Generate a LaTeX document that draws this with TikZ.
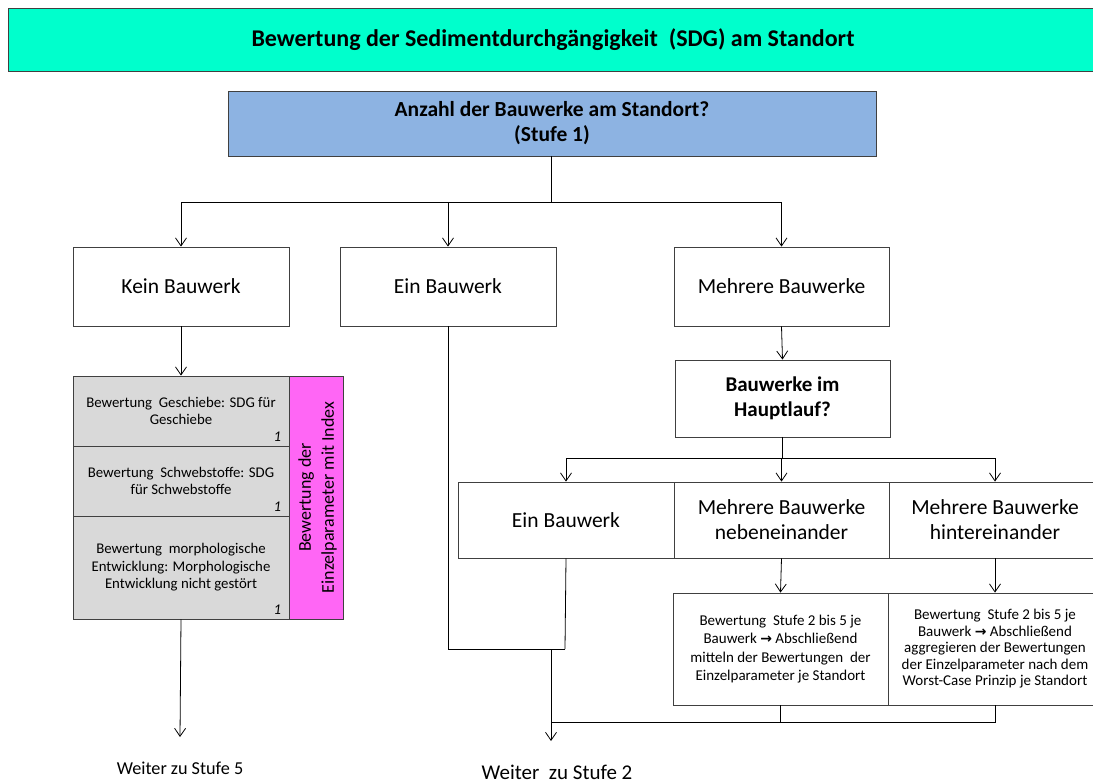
\documentclass[tikz,border=0pt]{standalone}
\usepackage{fontspec}
\setmainfont{Carlito}
\newfontfamily\arrowfont{DejaVu Sans}
\newcommand{\myarrow}{{\arrowfont\bfseries\fontsize{14}{14}\selectfont →}}
\usetikzlibrary{arrows.meta}
\definecolor{titlec}{HTML}{00FFCC}
\definecolor{stufec}{HTML}{8DB3E2}
\definecolor{grayc}{HTML}{D9D9D9}
\definecolor{magc}{HTML}{FF66F5}
\definecolor{linec}{HTML}{404040}
\tikzset{
  box/.style={draw=linec, line width=0.8pt, rectangle, align=center, inner sep=2pt, fill=white},
  big/.style={font=\fontsize{21.5}{25}\selectfont},
  small/.style={font=\fontsize{14.8}{17.5}\selectfont},
  conn/.style={draw=black, line width=0.8pt},
  arr/.style={conn, -{Straight Barb[length=8pt,width=11pt,line width=0.8pt]}},
}
\begin{document}
\begin{tikzpicture}[x=1pt,y=-1pt]
\useasboundingbox (0,0) rectangle (1093,783);
\clip (0,0) rectangle (1093,783);
% title
\node[box, fill=titlec, minimum width=1090pt, minimum height=63pt, font=\bfseries\fontsize{24}{28}\selectfont] (title) at (553,39.5) {Bewertung der Sedimentdurchgängigkeit\ \ (SDG) am Standort};
% stufe 1
\node[box, fill=stufec, minimum width=648pt, minimum height=65pt, font=\bfseries\fontsize{21.5}{25}\selectfont] (stufe) at (552,123.5) {Anzahl der Bauwerke am Standort?\\(Stufe 1)};
% level 1
\node[box, big, minimum width=216pt, minimum height=79pt] (kein) at (181,286.5) {Kein Bauwerk};
\node[box, big, minimum width=216pt, minimum height=79pt] (ein) at (448,286.5) {Ein Bauwerk};
\node[box, big, minimum width=215pt, minimum height=79pt] (mehr) at (781.5,286.5) {Mehrere Bauwerke};
% gray stack
\node[box, fill=grayc, small, minimum width=216pt, minimum height=70pt] (r1) at (181,411) {Bewertung\ \ Geschiebe: SDG für\\Geschiebe};
\node[box, fill=grayc, small, minimum width=216pt, minimum height=70pt] (r2) at (181,481) {Bewertung\ \ Schwebstoffe: SDG\\für Schwebstoffe};
\node[box, fill=grayc, small, minimum width=216pt, minimum height=103pt] (r3) at (181,567.5) {Bewertung\ \ morphologische\\Entwicklung: Morphologische\\Entwicklung nicht gestört};
\node[font=\itshape\fontsize{14.8}{16}\selectfont, anchor=south east, inner sep=0pt] (i1) at ([xshift=-8pt,yshift=5pt]r1.south east) {1};
\node[font=\itshape\fontsize{14.8}{16}\selectfont, anchor=south east, inner sep=0pt] (i2) at ([xshift=-8pt,yshift=5pt]r2.south east) {1};
\node[font=\itshape\fontsize{14.8}{16}\selectfont, anchor=south east, inner sep=0pt] (i3) at ([xshift=-8pt,yshift=5pt]r3.south east) {1};
\node[box, fill=magc, minimum width=54pt, minimum height=243pt] (mag) at (316,497.5) {};
\node[rotate=90, align=center, font=\fontsize{18}{23}\selectfont] (magt) at ([xshift=1.5pt]mag.center) {Bewertung der\\Einzelparameter mit Index};
% level 2
\node[box, font=\bfseries\fontsize{21}{25}\selectfont, minimum width=215pt, minimum height=77pt] (haupt) at (782.5,398.5) {Bauwerke im\\Hauptlauf?};
\node[box, big, minimum width=216pt, minimum height=76pt] (ein2) at (566,520) {Ein Bauwerk};
\node[box, big, minimum width=215pt, minimum height=76pt] (neben) at (781.5,520) {Mehrere Bauwerke\\nebeneinander};
\node[box, big, minimum width=212pt, minimum height=76pt] (hinter) at (995,520) {Mehrere Bauwerke\\hintereinander};
\node[box, font=\fontsize{15}{18.5}\selectfont, minimum width=215pt, minimum height=112pt] (bn) at (780.5,649) {Bewertung\ \ Stufe 2 bis 5 je\\Bauwerk \myarrow\ Abschließend\\mitteln der Bewertungen\ \ der\\Einzelparameter je Standort};
\node[box, minimum width=214pt, minimum height=112pt, font=\fontsize{15}{16.5}\selectfont] (bh) at (995,649) {Bewertung\ \ Stufe 2 bis 5 je\\Bauwerk \myarrow\ Abschließend\\aggregieren der Bewertungen\\der Einzelparameter nach dem\\Worst-Case Prinzip je Standort};
% outputs
\node[font=\fontsize{18.2}{20}\selectfont] (w5) at (180,768) {Weiter zu Stufe 5};
\node[font=\fontsize{21}{22}\selectfont] (w2) at (557,772) {Weiter\ \ zu Stufe 2};
% connectors
\coordinate (j1) at (551,202);
\path[conn] (551,156) -- (j1);
\path[arr] (j1) -| (kein.north);
\path[arr] (j1) -| (mehr.north);
\path[arr] (ein.north |- j1) -- (ein.north);
\path[arr] (kein.south) -- (r1.north);
\coordinate (e5) at (180,737);
\path[arr] (r3.south) -- (e5);
\path[arr] (mehr.south) -- (haupt.north);
\coordinate (j2) at (782,458);
\path[conn] (782,437) -- (j2);
\path[arr] (j2) -| (ein2.north);
\path[arr] (j2) -| (hinter.north);
\path[arr] (neben.north |- j2) -- (neben.north);
\path[arr] (neben.south) -- (bn.north);
\path[arr] (hinter.south) -- (bh.north);
\coordinate (j3) at (565,649);
\path[conn] (ein.south) |- (j3);
\path[conn] (ein2.south) -- (j3);
\coordinate (j4) at (551,649);
\coordinate (e2) at (551,741);
\path[arr] (j4) -- (e2);
\coordinate (j5) at (551,722);
\path[conn] (j5) -| (bh.south);
\path[conn] (bn.south) -- (bn.south |- j5);
\end{tikzpicture}
\end{document}
